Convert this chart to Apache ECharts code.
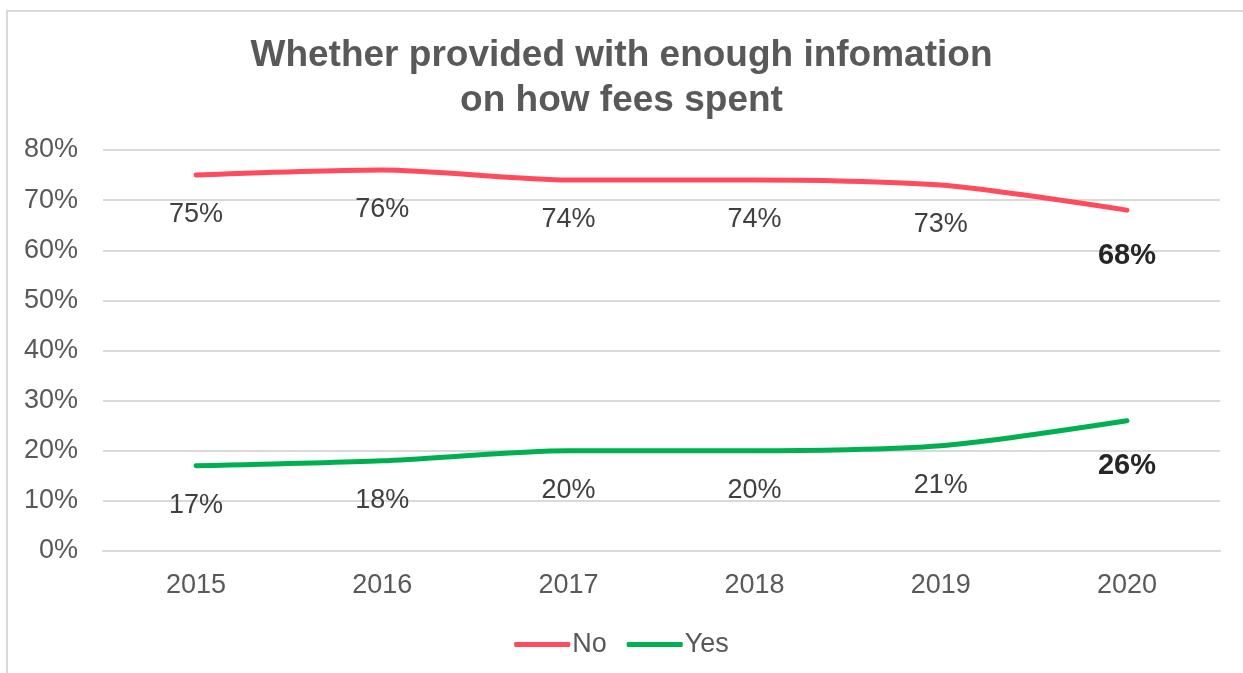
<!DOCTYPE html>
<html>
<head>
<meta charset="utf-8">
<script src="https://cdn.jsdelivr.net/npm/echarts@6/dist/echarts.min.js"></script>
<style>
  html, body { margin: 0; padding: 0; background: #fff; }
  #frame { position: absolute; left: 6px; top: 10px; width: 1300px; height: 700px; border: 2px solid #d9d9d9; box-sizing: border-box; }
  #chart { position: absolute; left: 0; top: 0; width: 1243px; height: 673px; }
</style>
</head>
<body>
<div id="frame"></div>
<div id="chart"></div>
<script>
const years = ['2015', '2016', '2017', '2018', '2019', '2020']
const noValues = [75, 76, 74, 74, 73, 68]
const yesValues = [17, 18, 20, 20, 21, 26]
const titleLines = ['Whether provided with enough infomation', 'on how fees spent']

const font = '"Liberation Sans", Arial, sans-serif'

// last point of each line gets a bold, darker label
function labelled(values) {
  return values.map((v, i) => {
    const last = i === values.length - 1
    return {
      value: v,
      label: {
        fontWeight: last ? 'bold' : 'normal',
        fontSize: last ? 29 : 27,
        color: last ? '#262626' : '#404040',
        distance: last ? 29 : 24,
      },
    }
  })
}

const chart = echarts.init(document.getElementById('chart'), null, { renderer: 'canvas' })
chart.setOption({
  animation: false,
  textStyle: { fontFamily: font },
  title: {
    text: titleLines.join('\n'),
    left: 'center',
    top: 28,
    textStyle: {
      fontFamily: font,
      fontSize: 37,
      fontWeight: 'bold',
      color: '#595959',
      lineHeight: 45,
    },
  },
  legend: {
    data: ['No', 'Yes'],
    left: 'center',
    top: 626,
    itemWidth: 56,
    itemHeight: 5,
    itemGap: 20,
    icon: 'roundRect',
    textStyle: { fontFamily: font, fontSize: 27, color: '#595959', padding: [0, 0, 0, -3] },
  },
  grid: { left: 103, right: 23, top: 150, bottom: 122, containLabel: false },
  xAxis: {
    type: 'category',
    data: years,
    axisLine: { lineStyle: { color: '#d9d9d9', width: 2 } },
    axisTick: { show: false },
    axisLabel: { fontFamily: font, fontSize: 27, color: '#595959', margin: 21 },
  },
  yAxis: {
    type: 'value',
    min: 0,
    max: 80,
    interval: 10,
    axisLine: { show: false },
    axisTick: { show: false },
    axisLabel: { fontFamily: font, fontSize: 27, color: '#595959', margin: 25, formatter: '{value}%' },
    splitLine: { lineStyle: { color: '#d9d9d9', width: 2 } },
  },
  series: [{
    name: 'No',
    type: 'line',
    data: labelled(noValues),
    smooth: 0.25,
    symbol: 'circle',
    symbolSize: 4,
    showSymbol: true,
    color: '#ff4b5c',
    lineStyle: { width: 5, cap: 'round' },
    label: { show: true, position: 'bottom', fontFamily: font, formatter: '{c}%' },
  }, {
    name: 'Yes',
    type: 'line',
    data: labelled(yesValues),
    smooth: 0.25,
    symbol: 'circle',
    symbolSize: 4,
    showSymbol: true,
    color: '#00b050',
    lineStyle: { width: 5, cap: 'round' },
    label: { show: true, position: 'bottom', fontFamily: font, formatter: '{c}%' },
  }],
})
</script>
</body>
</html>
